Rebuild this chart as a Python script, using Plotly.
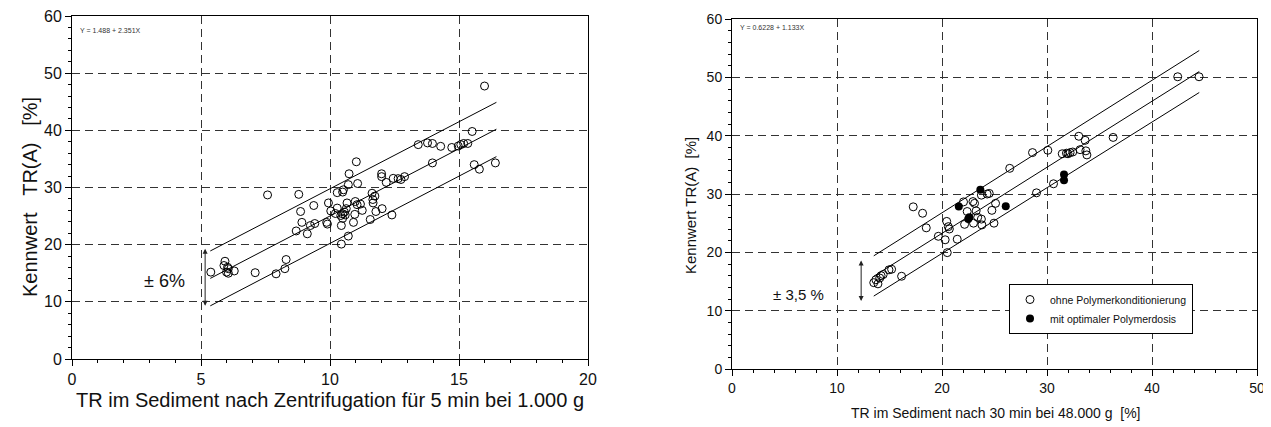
import plotly.graph_objects as go

# The page shows the figure with an 8 px body margin, so layout pixel
# positions are expressed in screen pixels and converted with OFF.
OFF = 8
W, H = 1271 - OFF, 427 - OFF
FONT = "Arial, Liberation Sans, sans-serif"


def fx(px):
    return (px - OFF) / W


def fy(py):
    return (H - (py - OFF)) / H


# ---------------- Left chart data (TR im Sediment, 5 min bei 1.000 g) ----------------
left_x = [15.99, 15.51, 13.42, 13.78, 13.97, 14.29, 14.72, 14.97, 15.07, 15.18, 15.34,
          13.97, 15.59, 15.79, 16.41, 11.02, 10.74, 11.07, 12.0, 12.0, 12.18, 12.45,
          12.64, 12.75, 12.89, 7.58, 8.79, 10.28, 10.49, 10.52, 10.71, 11.63, 11.74,
          8.86, 9.37, 9.94, 10.03, 8.91, 8.69, 9.12, 9.24, 9.41, 9.87, 9.90, 10.28,
          10.21, 10.42, 10.49, 10.56, 10.59, 10.49, 10.44, 10.66, 10.63, 10.98, 11.05,
          11.18, 10.96, 11.25, 10.91, 10.71, 10.44, 11.56, 11.66, 11.67, 11.78, 12.02,
          12.40, 5.93, 5.89, 6.03, 6.06, 5.99, 6.06, 6.29, 5.38, 7.10, 7.91, 8.25, 8.30]
left_y = [47.75, 39.8, 37.5, 37.8, 37.7, 37.2, 37.0, 37.25, 37.5, 37.7, 37.7,
          34.3, 34.0, 33.2, 34.3, 34.5, 32.4, 30.7, 32.4, 31.9, 30.9, 31.6,
          31.55, 31.4, 31.9, 28.7, 28.8, 29.1, 29.2, 29.6, 30.5, 29.0, 28.5,
          25.8, 26.85, 27.3, 25.9, 23.9, 22.4, 21.9, 23.35, 23.7, 23.9, 23.6, 26.4,
          25.45, 25.1, 25.4, 25.7, 25.2, 24.6, 23.35, 27.3, 26.3, 27.55, 27.0,
          27.1, 25.3, 26.0, 23.9, 21.5, 20.1, 24.4, 27.9, 27.3, 25.8, 26.3,
          25.2, 17.1, 16.35, 16.05, 15.8, 15.2, 15.0, 15.4, 15.2, 15.1, 14.9, 15.8, 17.4]

left_line_x = [5.36, 16.45]
left_center_y = [14.1, 40.2]
left_upper_y = [18.9, 44.9]
left_lower_y = [9.3, 35.4]

# ---------------- Right chart data (TR im Sediment, 30 min bei 48.000 g) ----------------
right_open_x = [42.45, 44.48, 33.03, 33.63, 36.3, 26.45, 28.62, 30.08, 31.45, 31.85, 32.2,
                32.45, 32.0, 33.15, 33.7, 33.8, 30.62, 29.0, 24.5, 23.75, 24.3,
                17.26, 18.15, 18.5, 19.65, 20.3, 20.45, 20.6, 20.7, 20.5, 21.45, 22.05,
                22.15, 22.4, 22.95, 23.1, 23.0, 23.25, 23.4, 23.8, 23.75, 24.75, 24.95,
                25.1, 13.5, 13.7, 13.9, 14.07, 14.2, 14.4, 14.95, 15.2, 16.15]
right_open_y = [50.1, 50.1, 39.9, 39.2, 39.7, 34.4, 37.1, 37.5, 36.9, 37.0, 37.1,
                37.2, 36.9, 37.6, 37.4, 36.7, 31.75, 30.2, 30.1, 29.8, 30.0,
                27.8, 26.7, 24.2, 22.75, 22.15, 25.3, 24.4, 24.0, 19.95, 22.25, 28.65,
                24.8, 27.0, 28.7, 28.4, 25.0, 27.1, 26.0, 24.7, 25.7, 27.2, 25.0,
                28.4, 14.8, 15.3, 14.6, 15.6, 16.0, 16.2, 17.0, 17.1, 15.9]
right_fill_x = [21.6, 22.5, 22.6, 23.65, 26.07, 31.62, 31.62]
right_fill_y = [27.85, 25.7, 26.0, 30.75, 27.9, 33.35, 32.35]

right_line_x = [13.5, 44.5]
right_center_y = [15.9, 51.0]
right_upper_y = [19.4, 54.6]
right_lower_y = [12.5, 47.4]

legend_labels = ["ohne Polymerkonditionierung", "mit optimaler Polymerdosis"]

fig = go.Figure()

line_style = dict(color="black", width=1)
open_marker = dict(symbol="circle-open", size=8, color="black", line=dict(width=1, color="black"))

# left
for ys in (left_upper_y, left_center_y, left_lower_y):
    fig.add_trace(go.Scatter(x=left_line_x, y=ys, mode="lines", line=line_style,
                             showlegend=False, xaxis="x", yaxis="y", hoverinfo="skip"))
fig.add_trace(go.Scatter(x=left_x, y=left_y, mode="markers", marker=open_marker,
                         showlegend=False, xaxis="x", yaxis="y"))

# right
for ys in (right_upper_y, right_center_y, right_lower_y):
    fig.add_trace(go.Scatter(x=right_line_x, y=ys, mode="lines", line=line_style,
                             showlegend=False, xaxis="x2", yaxis="y2", hoverinfo="skip"))
fig.add_trace(go.Scatter(x=right_open_x, y=right_open_y, mode="markers", marker=open_marker,
                         name=legend_labels[0], xaxis="x2", yaxis="y2"))
fig.add_trace(go.Scatter(x=right_fill_x, y=right_fill_y, mode="markers",
                         marker=dict(symbol="circle", size=8, color="black"),
                         name=legend_labels[1], xaxis="x2", yaxis="y2"))


def axis(domain, rng, dtick, minor, size, anchor):
    return dict(domain=domain, range=rng, dtick=dtick, tick0=0, anchor=anchor,
                automargin=False, ticklabeloverflow="allow",
                showline=True, mirror=True, linecolor="black", linewidth=1,
                ticks="outside", ticklen=6, tickcolor="black", tickwidth=1,
                minor=dict(dtick=minor, ticks="outside", ticklen=3, tickcolor="black", showgrid=False),
                showgrid=True, gridcolor="#333", gridwidth=1, griddash="8px,5px",
                zeroline=False, tickfont=dict(family=FONT, size=size, color="#111"),
                fixedrange=True)


fig.update_layout(
    template="none",
    width=W, height=H, margin=dict(l=0, r=0, t=0, b=0, autoexpand=False),
    paper_bgcolor="white", plot_bgcolor="white",
    font=dict(family=FONT, color="#111"),
    xaxis=axis([fx(72), fx(588)], [0, 20], 5, 1, 16, "y"),
    yaxis=axis([fy(359), fy(16)], [0, 60], 10, 2, 16, "x"),
    xaxis2=axis([fx(732), fx(1257)], [0, 50], 10, 2, 14, "y2"),
    yaxis2=axis([fy(369), fy(19)], [0, 60], 10, 2, 14, "x2"),
    legend=dict(x=fx(1009), y=fy(284), xanchor="left", yanchor="top",
                bordercolor="black", borderwidth=1, bgcolor="white",
                font=dict(family=FONT, size=10.5, color="#111"), tracegroupgap=4),
    showlegend=True,
)

nb = "\u00a0"
ann = [
    dict(x=0.25, y=57.4, xref="x", yref="y", text="Y = 1.488 + 2.351X", showarrow=False,
         xanchor="left", yanchor="middle", font=dict(size=7, color="#333")),
    dict(x=3.6, y=13.7, xref="x", yref="y", text="± 6%", showarrow=False,
         xanchor="center", yanchor="middle", font=dict(size=18)),
    dict(x=5.16, y=19.3, ax=5.16, ay=9.05, xref="x", yref="y", axref="x", ayref="y",
         text="", showarrow=True, arrowside="end+start", arrowhead=2, arrowsize=1,
         arrowwidth=1, arrowcolor="#222"),
    dict(x=0.6, y=58.6, xref="x2", yref="y2", text="Y = 0.6228 + 1.133X", showarrow=False,
         xanchor="left", yanchor="middle", font=dict(size=7, color="#333")),
    dict(x=6.3, y=12.8, xref="x2", yref="y2", text="± 3,5 %", showarrow=False,
         xanchor="center", yanchor="middle", font=dict(size=15)),
    dict(x=12.3, y=18.6, ax=12.3, ay=11.4, xref="x2", yref="y2", axref="x2", ayref="y2",
         text="", showarrow=True, arrowside="end+start", arrowhead=2, arrowsize=1,
         arrowwidth=1, arrowcolor="#222"),
    dict(x=fx(330), y=fy(400), xref="paper", yref="paper", showarrow=False,
         xanchor="center", yanchor="middle",
         text="TR im Sediment nach Zentrifugation für 5 min bei 1.000 g", font=dict(size=20)),
    dict(x=fx(995), y=fy(413), xref="paper", yref="paper", showarrow=False,
         xanchor="center", yanchor="middle",
         text="TR im Sediment nach 30 min bei 48.000 g" + nb * 2 + "[%]", font=dict(size=14)),
    dict(x=fx(30), y=fy(197), xref="paper", yref="paper", showarrow=False, textangle=-90,
         xanchor="center", yanchor="middle",
         text="Kennwert" + nb * 3 + "TR(A)" + nb * 3 + "[%]", font=dict(size=20)),
    dict(x=fx(690), y=fy(205), xref="paper", yref="paper", showarrow=False, textangle=-90,
         xanchor="center", yanchor="middle",
         text="Kennwert TR(A)" + nb * 2 + "[%]", font=dict(size=15)),
]
fig.update_layout(annotations=ann)

fig.write_html("out.html")
